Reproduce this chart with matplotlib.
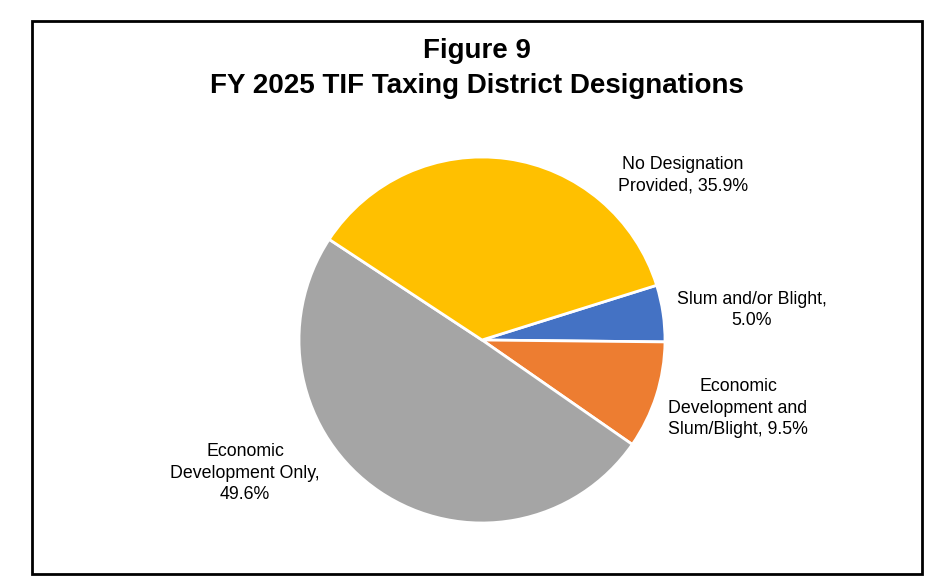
import matplotlib.pyplot as plt
from matplotlib.patches import Rectangle

plt.rcParams['font.family'] = ['Liberation Sans', 'DejaVu Sans']

# slices, in drawing order (clockwise from the blue one)
categorias = ['Slum and/or Blight', 'Economic Development and Slum/Blight',
              'Economic Development Only', 'No Designation Provided']
porcentajes = [5.0, 9.5, 49.6, 35.9]
etiquetas = ['Slum and/or Blight,\n5.0%',
             'Economic\nDevelopment and\nSlum/Blight, 9.5%',
             'Economic\nDevelopment Only,\n49.6%',
             'No Designation\nProvided, 35.9%']
colores = ['#4472C4', '#ED7D31', '#A5A5A5', '#FFC000']

# label positions in pie-radius units
pos_etiquetas = [(1.475, 0.164), (1.399, -0.372), (-1.295, -0.727), (1.098, 0.902)]


def main():
    fig = plt.figure(figsize=(9.36, 5.85), dpi=100)

    # outer frame
    fig.patches.append(Rectangle((32 / 936, 1 - 574 / 585), 890 / 936, 553 / 585,
                                 transform=fig.transFigure, fill=False,
                                 edgecolor='black', linewidth=2))

    fig.text(477 / 936, 1 - 51 / 585, 'Figure 9', ha='center', va='center',
             fontsize=20, fontweight='bold')
    fig.text(477 / 936, 1 - 86 / 585, 'FY 2025 TIF Taxing District Designations',
             ha='center', va='center', fontsize=20, fontweight='bold')

    cx, cy, r = 482, 340, 183
    ax = fig.add_axes([(cx - r) / 936, (585 - cy - r) / 585, 2 * r / 936, 2 * r / 585])
    ax.pie(porcentajes, colors=colores, startangle=17.4, counterclock=False,
           wedgeprops={'edgecolor': 'white', 'linewidth': 2})
    ax.set_xlim(-1, 1)
    ax.set_ylim(-1, 1)
    ax.set_aspect('equal')
    ax.axis('off')

    for texto, (x, y) in zip(etiquetas, pos_etiquetas):
        ax.text(x, y, texto, ha='center', va='center', fontsize=12.8,
                linespacing=1.35, clip_on=False)

    fig.savefig('out.png', dpi=100)


main()
